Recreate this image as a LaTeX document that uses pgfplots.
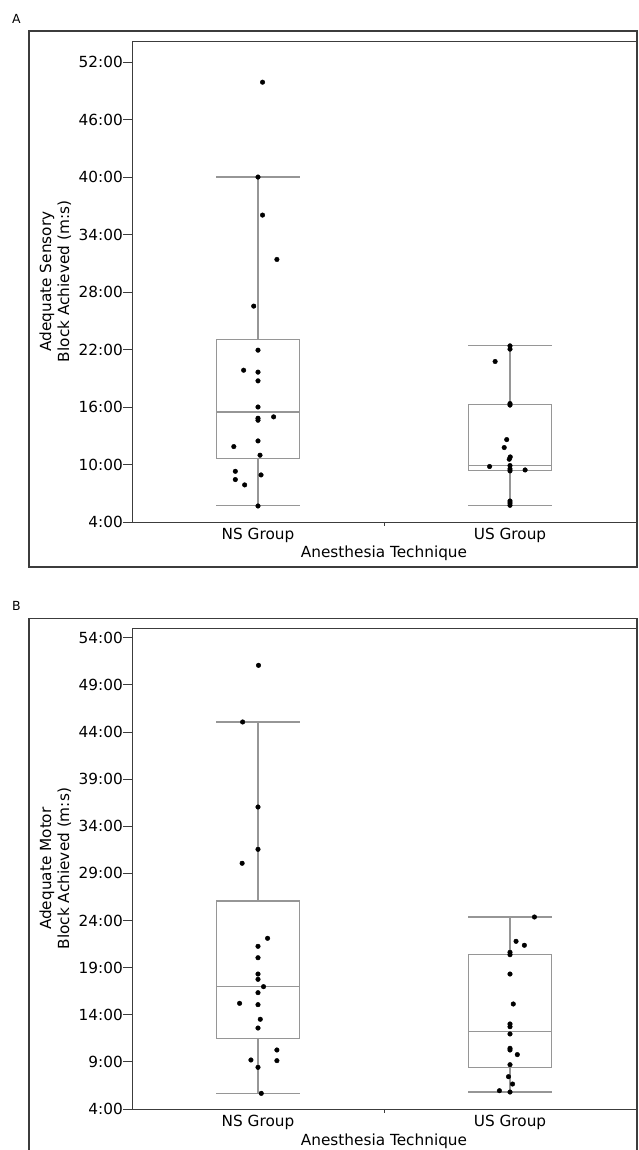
\documentclass[border=0pt]{standalone}
\usepackage{pgfplots}
\pgfplotsset{compat=1.18}
\usepackage{fontspec}
\setmainfont{DejaVu Sans}
\definecolor{boxgray}{RGB}{150,150,150}
\definecolor{framegray}{RGB}{60,60,60}
\pgfplotsset{
  panel/.style={
    scale only axis, width=504pt,
    xmin=0.5, xmax=2.5, ymin=4,
    axis line style={draw=framegray, line width=0.9pt},
    tick align=outside, tick pos=left,
    major tick length=8.5pt,
    ytick style={draw=framegray, line width=0.9pt},
    xtick={1,2}, xticklabels={NS Group,US Group},
    xtick style={draw=none},
    extra x ticks={1.5}, extra x tick labels={},
    extra x tick style={xtick style={draw=framegray, line width=0.9pt}, major tick length=4pt},
    tick label style={font=\fontsize{15.3}{18}\selectfont},
    yticklabel style={inner sep=0.5pt},
    xticklabel style={anchor=base, yshift=-9pt},
    label style={font=\fontsize{15.3}{18}\selectfont},
    xlabel style={at={(axis description cs:0.5,0)}, anchor=base, yshift=-36pt},
    ylabel style={at={(axis description cs:-0.152,0.5)}, anchor=center, align=center},
    xlabel={Anesthesia Technique},
  },
  bx/.style={draw=boxgray, line width=1.1pt, solid, no marks, line join=miter},
  pts/.style={only marks, mark=*, mark size=2.3pt, black},
}
% box: lower whisker, lower quartile, median, upper quartile, upper whisker
\newcommand{\bxp}[6]{%
  \addplot[bx] coordinates {(#1-0.165,#3) (#1+0.165,#3) (#1+0.165,#5) (#1-0.165,#5) (#1-0.165,#3)};
  \addplot[bx] coordinates {(#1-0.165,#4) (#1+0.165,#4)};
  \addplot[bx] coordinates {(#1,#3) (#1,#2)};
  \addplot[bx] coordinates {(#1,#5) (#1,#6)};
  \addplot[bx] coordinates {(#1-0.165,#2) (#1+0.165,#2)};
  \addplot[bx] coordinates {(#1-0.165,#6) (#1+0.165,#6)};
}
\begin{document}
\begin{tikzpicture}
\useasboundingbox (0pt,0pt) rectangle (638pt,1150pt);
\draw[line width=1.4pt, framegray] (29pt,1119pt) rectangle (637pt,583pt);
\draw[line width=1.4pt, framegray] (29pt,-5pt) -- (29pt,531.7pt) -- (637pt,531.7pt) -- (637pt,-5pt);
\node[font=\fontsize{12.5}{14}\selectfont] at (16.5pt,1131.5pt) {A};
\node[font=\fontsize{12.5}{14}\selectfont] at (16.5pt,544pt) {B};

\begin{axis}[panel, at={(132pt,628pt)}, anchor=south west, height=481pt,
  ymax=54.2,
  ytick={4,10,16,22,28,34,40,46,52},
  yticklabels={4:00,10:00,16:00,22:00,28:00,34:00,40:00,46:00,52:00},
  ylabel={Adequate Sensory\\Block Achieved (m:s)}]
\bxp{1}{5.70}{10.58}{15.48}{23.07}{40.0}
\bxp{2}{5.74}{9.33}{9.92}{16.29}{22.38}
\addplot[pts] coordinates {
(1.018,49.9) (1.0,40.0) (1.018,36.03) (1.075,31.4) (0.983,26.53) (1.0,21.93)
(0.943,19.84) (1.0,19.64) (1.0,18.73) (1.0,16.0) (1.0,14.83) (1.0,14.62)
(1.062,14.97) (0.904,11.87) (1.0,12.46) (1.008,10.97) (0.910,9.29) (0.910,8.43)
(0.947,7.87) (1.012,8.91) (1.0,5.67)
};
\addplot[pts] coordinates {
(2.0,22.38) (2.0,22.04) (1.941,20.75) (2.0,16.36) (2.0,16.2) (1.987,12.6)
(1.977,11.77) (2.001,10.79) (1.997,10.55) (1.919,9.79) (2.0,9.89) (2.0,9.54)
(2.0,9.33) (2.060,9.43) (2.0,6.19) (2.0,5.98) (2.0,5.74)
};
\end{axis}

\begin{axis}[panel, at={(132pt,41pt)}, anchor=south west, height=480.7pt,
  ymax=55,
  ytick={4,9,14,19,24,29,34,39,44,49,54},
  yticklabels={4:00,9:00,14:00,19:00,24:00,29:00,34:00,39:00,44:00,49:00,54:00},
  ylabel={Adequate Motor\\Block Achieved (m:s)}]
\bxp{1}{5.66}{11.5}{16.98}{26.07}{45.06}
\bxp{2}{5.80}{8.42}{12.27}{20.42}{24.37}
\addplot[pts] coordinates {
(1.002,51.07) (0.939,45.06) (1.0,36.04) (1.0,31.55) (0.937,30.07) (1.038,22.11)
(1.0,21.26) (1.0,20.05) (1.0,18.32) (1.0,17.76) (1.022,16.98) (1.0,16.34)
(0.927,15.21) (1.0,15.07) (1.009,13.52) (1.0,12.59) (1.075,10.26) (0.972,9.2)
(1.075,9.13) (1.0,8.42) (1.013,5.66)
};
\addplot[pts] coordinates {
(2.097,24.37) (2.024,21.79) (2.057,21.37) (2.0,20.62) (2.0,20.37) (2.0,18.32)
(2.013,15.14) (2.0,13.02) (2.0,12.73) (2.0,11.96) (2.0,10.44) (2.0,10.26)
(2.029,9.77) (2.0,8.70) (1.994,7.43) (2.010,6.65) (1.958,5.94) (2.0,5.80)
};
\end{axis}
\end{tikzpicture}
\end{document}
